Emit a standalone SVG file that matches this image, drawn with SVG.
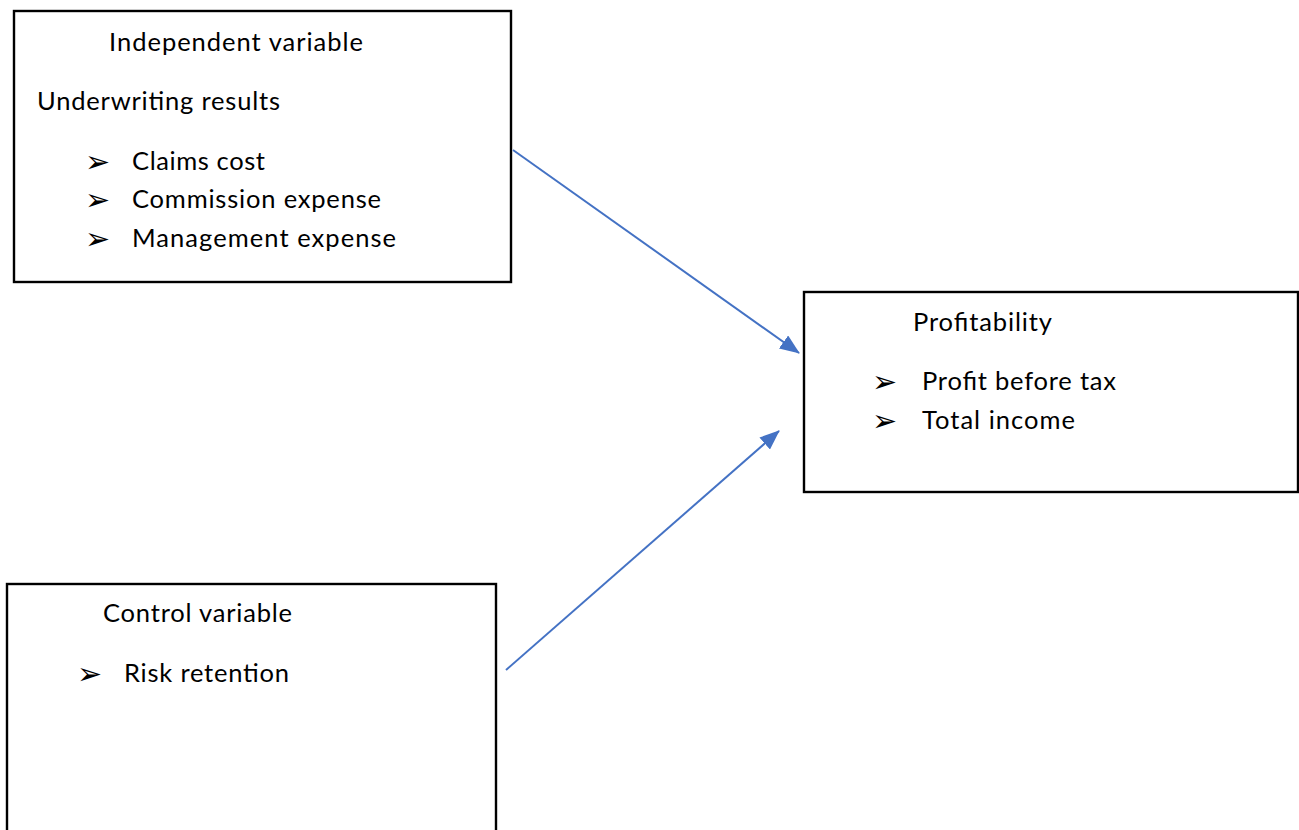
<svg xmlns="http://www.w3.org/2000/svg" width="1299" height="830" viewBox="0 0 1299 830">
<style>
.box{fill:#fff;stroke:#000;stroke-width:2.4}
.t{font-family:Lato,"Open Sans","Liberation Sans",sans-serif;font-size:25.5px;fill:#000}
.b{font-family:"DejaVu Sans",sans-serif;font-size:30px;fill:#000}
.c{stroke:#4472C4;stroke-width:2;fill:none}
</style>
<defs>
<marker id="ah2" markerWidth="20" markerHeight="16" refX="19" refY="8" orient="auto" markerUnits="userSpaceOnUse">
<path d="M0,0 L20,8 L0,16 Z" fill="#4472C4"/>
</marker>
</defs>
<rect width="1299" height="830" fill="#fff"/>
<g id="independent">
<rect class="box" x="14" y="11" width="497" height="271"/>
<text class="t" x="109" y="51" textLength="254">Independent variable</text>
<text class="t" x="37" y="110" textLength="243">Underwriting results</text>
<text class="b" x="85" y="172">➢</text>
<text class="t" x="132" y="170" textLength="133">Claims cost</text>
<text class="b" x="85" y="210">➢</text>
<text class="t" x="132" y="208" textLength="249">Commission expense</text>
<text class="b" x="85" y="249">➢</text>
<text class="t" x="132" y="247" textLength="264">Management expense</text>
</g>
<g id="profitability">
<rect class="box" x="804" y="292" width="494" height="200"/>
<text class="t" x="913" y="331" textLength="139">Profitability</text>
<text class="b" x="872" y="392">➢</text>
<text class="t" x="922" y="390" textLength="194">Profit before tax</text>
<text class="b" x="872" y="431">➢</text>
<text class="t" x="922" y="429" textLength="153">Total income</text>
</g>
<g id="control">
<rect class="box" x="7" y="584" width="489" height="260"/>
<text class="t" x="103" y="622" textLength="189">Control variable</text>
<text class="b" x="77" y="684">➢</text>
<text class="t" x="124" y="682" textLength="165">Risk retention</text>
</g>
<g id="connectors">
<line class="c" x1="513" y1="150" x2="799" y2="353" marker-end="url(#ah2)"/>
<line class="c" x1="506" y1="670" x2="779" y2="431" marker-end="url(#ah2)"/>
</g>
</svg>
